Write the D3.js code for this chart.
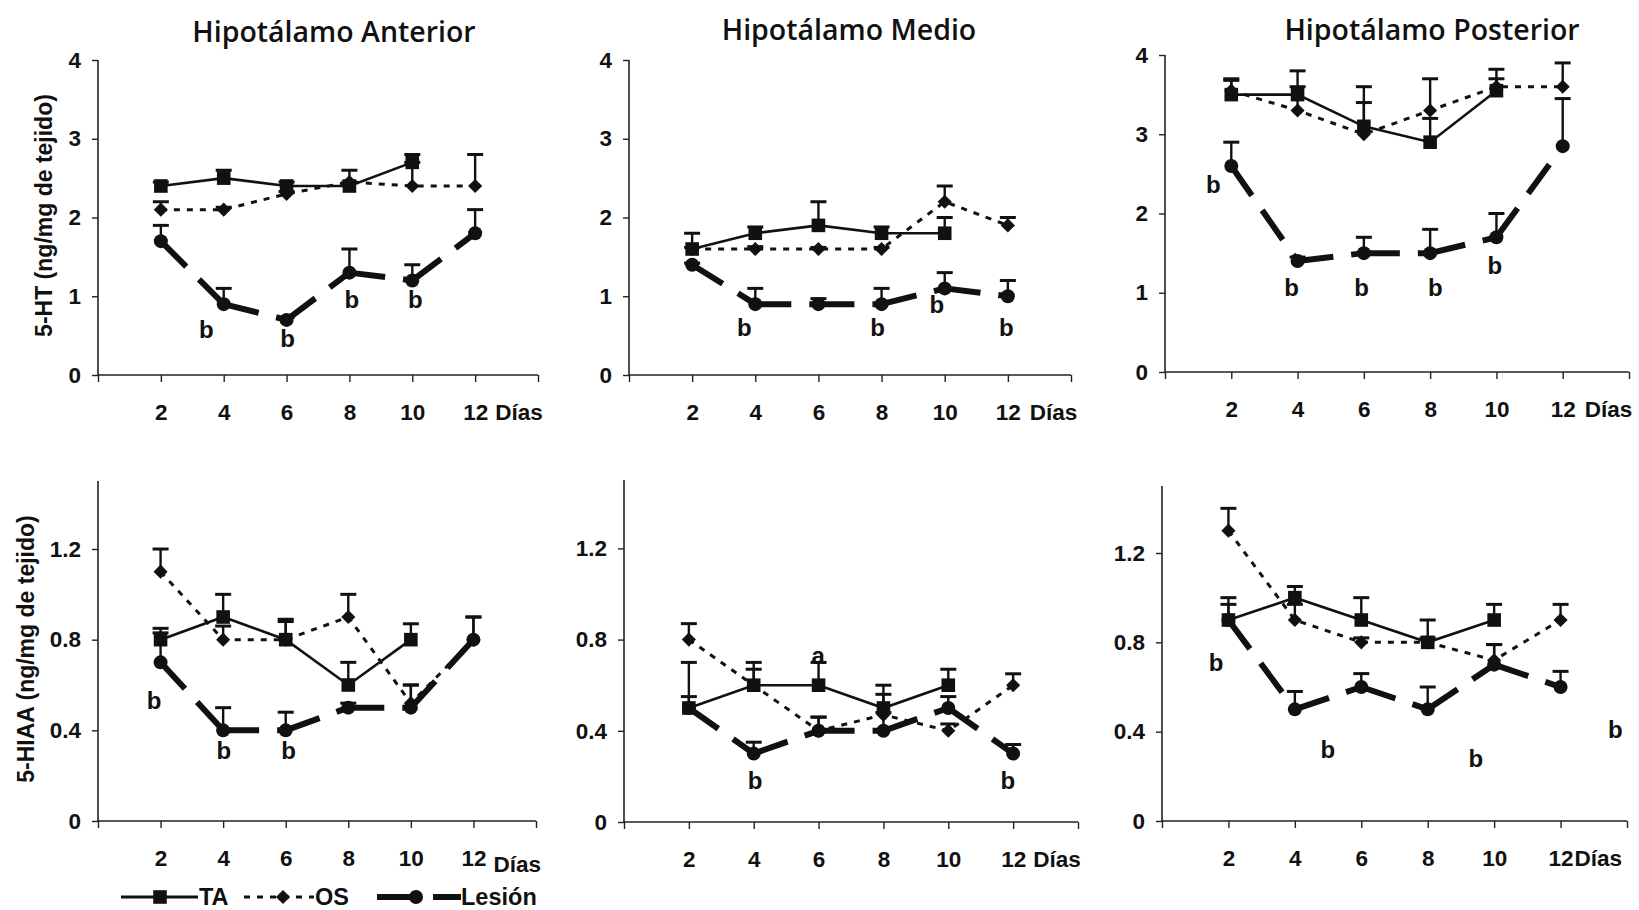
<!DOCTYPE html>
<html>
<head>
<meta charset="utf-8">
<script src="https://cdn.jsdelivr.net/npm/d3@7"></script>
<style>
  body { margin: 0; background: #fff; }
  svg { display: block; }
</style>
</head>
<body>
<svg id="chart" width="1639" height="910"></svg>
<script>
// ---- data -------------------------------------------------------------
const days = [2, 4, 6, 8, 10, 12];
const taDays = [2, 4, 6, 8, 10];

const htTicks = [0, 1, 2, 3, 4];
const hiaaTicks = [0, 0.4, 0.8, 1.2];
const dayTicks = [0, 2, 4, 6, 8, 10, 12, 14];
const dayLabels = ["", "2", "4", "6", "8", "10", "12", ""];

// 5-HT, hipotálamo anterior
const htAntTA = [2.4, 2.5, 2.4, 2.4, 2.7];
const htAntTAErr = [0.05, 0.1, 0.05, 0.05, 0.1];
const htAntOS = [2.1, 2.1, 2.3, 2.45, 2.4, 2.4];
const htAntOSErr = [0.1, 0.03, 0.03, 0.15, 0.3, 0.4];
const htAntLes = [1.7, 0.9, 0.7, 1.3, 1.2, 1.8];
const htAntLesErr = [0.2, 0.2, 0.03, 0.3, 0.2, 0.3];
const htAntNotes = [[3.45, 0.58, "b"], [6.03, 0.46, "b"], [8.08, 0.96, "b"], [10.1, 0.96, "b"]];

// 5-HT, hipotálamo medio
const htMedTA = [1.6, 1.8, 1.9, 1.8, 1.8];
const htMedTAErr = [0.2, 0.08, 0.3, 0.08, 0.2];
const htMedOS = [1.6, 1.6, 1.6, 1.6, 2.2, 1.9];
const htMedOSErr = [0.02, 0.03, 0.02, 0.02, 0.2, 0.1];
const htMedLes = [1.4, 0.9, 0.9, 0.9, 1.1, 1.0];
const htMedLesErr = [0.02, 0.2, 0.07, 0.2, 0.2, 0.2];
const htMedNotes = [[3.65, 0.6, "b"], [7.87, 0.6, "b"], [9.75, 0.89, "b"], [11.95, 0.6, "b"]];

// 5-HT, hipotálamo posterior
const htPosTA = [3.5, 3.5, 3.1, 2.9, 3.55];
const htPosTAErr = [0.2, 0.3, 0.5, 0.3, 0.27];
const htPosOS = [3.55, 3.3, 3.0, 3.3, 3.6, 3.6];
const htPosOSErr = [0.13, 0.3, 0.4, 0.4, 0.1, 0.3];
const htPosLes = [2.6, 1.4, 1.5, 1.5, 1.7, 2.85];
const htPosLesErr = [0.3, 0.05, 0.2, 0.3, 0.3, 0.6];
const htPosNotes = [[1.46, 2.36, "b"], [3.82, 1.07, "b"], [5.93, 1.07, "b"], [8.16, 1.07, "b"], [9.95, 1.35, "b"]];

// 5-HIAA, hipotálamo anterior
const hiaaAntTA = [0.8, 0.9, 0.8, 0.6, 0.8];
const hiaaAntTAErr = [0.05, 0.1, 0.08, 0.1, 0.07];
const hiaaAntOS = [1.1, 0.8, 0.8, 0.9, 0.52, 0.8];
const hiaaAntOSErr = [0.1, 0.06, 0.09, 0.1, 0.08, 0.1];
const hiaaAntLes = [0.7, 0.4, 0.4, 0.5, 0.5, 0.8];
const hiaaAntLesErr = [0.13, 0.1, 0.08, 0.02, 0.1, 0.1];
const hiaaAntNotes = [[1.79, 0.53, "b"], [4.02, 0.31, "b"], [6.09, 0.31, "b"]];

// 5-HIAA, hipotálamo medio
const hiaaMedTA = [0.5, 0.6, 0.6, 0.5, 0.6];
const hiaaMedTAErr = [0.2, 0.1, 0.1, 0.1, 0.07];
const hiaaMedOS = [0.8, 0.6, 0.4, 0.47, 0.4, 0.6];
const hiaaMedOSErr = [0.07, 0.07, 0.06, 0.09, 0.03, 0.05];
const hiaaMedLes = [0.5, 0.3, 0.4, 0.4, 0.5, 0.3];
const hiaaMedLesErr = [0.05, 0.05, 0.06, 0.08, 0.05, 0.04];
const hiaaMedNotes = [[4.04, 0.18, "b"], [11.84, 0.18, "b"], [5.99, 0.73, "a"]];

// 5-HIAA, hipotálamo posterior
const hiaaPosTA = [0.9, 1.0, 0.9, 0.8, 0.9];
const hiaaPosTAErr = [0.1, 0.05, 0.1, 0.1, 0.07];
const hiaaPosOS = [1.3, 0.9, 0.8, 0.8, 0.72, 0.9];
const hiaaPosOSErr = [0.1, 0.07, 0.02, 0.02, 0.07, 0.07];
const hiaaPosLes = [0.9, 0.5, 0.6, 0.5, 0.7, 0.6];
const hiaaPosLesErr = [0.07, 0.08, 0.06, 0.1, 0.09, 0.07];
const hiaaPosNotes = [[1.63, 0.71, "b"], [4.99, 0.32, "b"], [9.45, 0.28, "b"], [13.65, 0.41, "b"]];

const titles = ["Hipotálamo Anterior", "Hipotálamo Medio", "Hipotálamo Posterior"];
const yTitles = ["5-HT (ng/mg de tejido)", "5-HIAA (ng/mg de tejido)"];
const legendNames = ["TA", "OS", "Lesión"];

// ---- layout ------------------------------------------------------------
const panels = [
  { ta: htAntTA, taErr: htAntTAErr, os: htAntOS, osErr: htAntOSErr, les: htAntLes, lesErr: htAntLesErr, notes: htAntNotes,
    ticks: htTicks, yMax: 4, fmt: d3.format("d"), box: { x0: 98, x1: 538, y0: 375, y1: 60 },
    title: titles[0], titleX: 334, titleY: 31, yTitle: yTitles[0], yTitleX: 44, diasGap: 20, diasDy: 0 },
  { ta: htMedTA, taErr: htMedTAErr, os: htMedOS, osErr: htMedOSErr, les: htMedLes, lesErr: htMedLesErr, notes: htMedNotes,
    ticks: htTicks, yMax: 4, fmt: d3.format("d"), box: { x0: 629, x1: 1071, y0: 375, y1: 60 },
    title: titles[1], titleX: 849, titleY: 29, diasGap: 22, diasDy: 0 },
  { ta: htPosTA, taErr: htPosTAErr, os: htPosOS, osErr: htPosOSErr, les: htPosLes, lesErr: htPosLesErr, notes: htPosNotes,
    ticks: htTicks, yMax: 4, fmt: d3.format("d"), box: { x0: 1165, x1: 1629, y0: 372, y1: 55 },
    title: titles[2], titleX: 1432, titleY: 29, diasGap: 22, diasDy: 0 },
  { ta: hiaaAntTA, taErr: hiaaAntTAErr, os: hiaaAntOS, osErr: hiaaAntOSErr, les: hiaaAntLes, lesErr: hiaaAntLesErr, notes: hiaaAntNotes,
    ticks: hiaaTicks, yMax: 1.5, fmt: d3.format(".1f"), box: { x0: 98, x1: 536, y0: 821, y1: 481 },
    yTitle: yTitles[1], yTitleX: 26, diasGap: 20, diasDy: 6 },
  { ta: hiaaMedTA, taErr: hiaaMedTAErr, os: hiaaMedOS, osErr: hiaaMedOSErr, les: hiaaMedLes, lesErr: hiaaMedLesErr, notes: hiaaMedNotes,
    ticks: hiaaTicks, yMax: 1.5, fmt: d3.format(".1f"), box: { x0: 624, x1: 1078, y0: 822, y1: 480 },
    diasGap: 20, diasDy: 0 },
  { ta: hiaaPosTA, taErr: hiaaPosTAErr, os: hiaaPosOS, osErr: hiaaPosOSErr, les: hiaaPosLes, lesErr: hiaaPosLesErr, notes: hiaaPosNotes,
    ticks: hiaaTicks, yMax: 1.5, fmt: d3.format(".1f"), box: { x0: 1162, x1: 1627, y0: 821, y1: 486 },
    diasGap: 14, diasDy: 0 }
];

const svg = d3.select("#chart");
const numFont = "'Liberation Sans', Arial, sans-serif";
const titleFont = "'Open Sans', 'Noto Sans', sans-serif";
const tickSize = 22.5;

function fmtTick(f) {
  return d => (d === 0 ? "0" : f(d));
}

// marker shapes
const squareSym = d3.symbol().type(d3.symbolSquare).size(185);
const diamondSym = d3.symbol().type(d3.symbolSquare).size(100);

panels.forEach(p => {
  const x = d3.scaleLinear().domain([0, 14]).range([p.box.x0, p.box.x1]);
  const y = d3.scaleLinear().domain([0, p.yMax]).range([p.box.y0, p.box.y1]);
  const g = svg.append("g");

  // axes
  const xAxis = d3.axisBottom(x).tickValues(dayTicks)
    .tickFormat((d, i) => dayLabels[i]).tickSize(7).tickPadding(22);
  const gx = g.append("g").attr("transform", `translate(0,${p.box.y0})`).call(xAxis);
  const yAxis = d3.axisLeft(y).tickValues(p.ticks).tickFormat(fmtTick(p.fmt)).tickSize(6).tickPadding(11);
  const gy = g.append("g").attr("transform", `translate(${p.box.x0},0)`).call(yAxis);

  [gx, gy].forEach(ax => {
    ax.select(".domain").attr("stroke", "#222").attr("stroke-width", 1.6);
    ax.selectAll(".tick line").attr("stroke", "#222").attr("stroke-width", 1.4);
    ax.selectAll(".tick text").attr("font-family", numFont).attr("font-weight", "bold")
      .attr("font-size", tickSize).attr("fill", "#111");
  });
  // axis lines span exactly the plotted ranges
  gy.select(".domain").attr("d", `M0,${p.box.y1}V${p.box.y0}`);
  gx.select(".domain").attr("d", `M${p.box.x0},0H${p.box.x1}`);

  // "Días" after the last day label
  g.append("text")
    .attr("x", x(12) + p.diasGap).attr("y", p.box.y0 + 37 + 8 + p.diasDy)
    .attr("font-family", numFont).attr("font-weight", "bold").attr("font-size", tickSize)
    .attr("fill", "#111").text("Días");

  if (p.title) {
    g.append("text").attr("x", p.titleX).attr("y", p.titleY)
      .attr("text-anchor", "middle").attr("dominant-baseline", "central")
      .attr("font-family", titleFont).attr("font-weight", 600).attr("font-size", 28.5)
      .attr("fill", "#111").text(p.title);
  }
  if (p.yTitle) {
    const cy = (p.box.y0 + p.box.y1) / 2 - 2;
    g.append("text").attr("transform", `translate(${p.yTitleX},${cy}) rotate(-90)`)
      .attr("text-anchor", "middle").attr("dominant-baseline", "central")
      .attr("font-family", numFont).attr("font-weight", "bold").attr("font-size", 23)
      .attr("fill", "#111").text(p.yTitle);
  }

  const plot = g.append("g");

  // error bars (upper whisker only)
  function errorBars(xs, vals, errs, w) {
    xs.forEach((d, i) => {
      const e = errs[i];
      if (!e) return;
      const top = y(vals[i] + e);
      plot.append("line").attr("x1", x(d)).attr("x2", x(d)).attr("y1", y(vals[i])).attr("y2", top)
        .attr("stroke", "#111").attr("stroke-width", 2.4);
      plot.append("line").attr("x1", x(d) - w / 2).attr("x2", x(d) + w / 2).attr("y1", top).attr("y2", top)
        .attr("stroke", "#111").attr("stroke-width", 3);
    });
  }

  const line = d3.line().x(d => x(d[0])).y(d => y(d[1]));

  // TA: solid line with squares
  const taPts = taDays.map((d, i) => [d, p.ta[i]]);
  plot.append("path").attr("d", line(taPts)).attr("fill", "none")
    .attr("stroke", "#111").attr("stroke-width", 2.6);
  errorBars(taDays, p.ta, p.taErr, 16);
  plot.selectAll(null).data(taPts).enter().append("path")
    .attr("d", squareSym).attr("transform", d => `translate(${x(d[0])},${y(d[1])})`).attr("fill", "#111");

  // OS: dotted line with diamonds
  const osPts = days.map((d, i) => [d, p.os[i]]);
  plot.append("path").attr("d", line(osPts)).attr("fill", "none")
    .attr("stroke", "#111").attr("stroke-width", 3).attr("stroke-dasharray", "6,7");
  errorBars(days, p.os, p.osErr, 16);
  plot.selectAll(null).data(osPts).enter().append("path")
    .attr("d", diamondSym).attr("transform", d => `translate(${x(d[0])},${y(d[1])}) rotate(45)`).attr("fill", "#111");

  // Lesión: heavy long-dash line with circles, dash pattern restarting at each point
  const lesPts = days.map((d, i) => [d, p.les[i]]);
  d3.pairs(lesPts).forEach(seg => {
    plot.append("path").attr("d", line(seg)).attr("fill", "none")
      .attr("stroke", "#111").attr("stroke-width", 6).attr("stroke-dasharray", "36,18");
  });
  errorBars(days, p.les, p.lesErr, 16);
  plot.selectAll(null).data(lesPts).enter().append("circle")
    .attr("cx", d => x(d[0])).attr("cy", d => y(d[1])).attr("r", 7).attr("fill", "#111");

  // significance letters
  plot.selectAll(null).data(p.notes).enter().append("text")
    .attr("x", d => x(d[0])).attr("y", d => y(d[1]))
    .attr("text-anchor", "middle").attr("dominant-baseline", "central")
    .attr("font-family", numFont).attr("font-weight", "bold").attr("font-size", 24)
    .attr("fill", "#111").text(d => d[2]);
});

// ---- legend --------------------------------------------------------------
const lg = svg.append("g").attr("transform", "translate(0,897)");
const lgText = (xPos, t) => lg.append("text").attr("x", xPos).attr("y", 0)
  .attr("dominant-baseline", "central").attr("font-family", numFont).attr("font-weight", "bold")
  .attr("font-size", 23.5).attr("fill", "#111").text(t);

lg.append("line").attr("x1", 121).attr("x2", 198).attr("y1", 0).attr("y2", 0)
  .attr("stroke", "#111").attr("stroke-width", 3);
lg.append("path").attr("d", squareSym).attr("transform", "translate(160,0)").attr("fill", "#111");
lgText(199, legendNames[0]);

lg.append("line").attr("x1", 244).attr("x2", 314).attr("y1", 0).attr("y2", 0)
  .attr("stroke", "#111").attr("stroke-width", 3).attr("stroke-dasharray", "6,7");
lg.append("path").attr("d", diamondSym).attr("transform", "translate(283,0) rotate(45)").attr("fill", "#111");
lgText(315, legendNames[1]);

lg.append("line").attr("x1", 377).attr("x2", 416).attr("y1", 0).attr("y2", 0)
  .attr("stroke", "#111").attr("stroke-width", 6);
lg.append("circle").attr("cx", 416).attr("cy", 0).attr("r", 7).attr("fill", "#111");
lg.append("line").attr("x1", 433).attr("x2", 461).attr("y1", 0).attr("y2", 0)
  .attr("stroke", "#111").attr("stroke-width", 6);
lgText(461, legendNames[2]);
</script>
</body>
</html>
